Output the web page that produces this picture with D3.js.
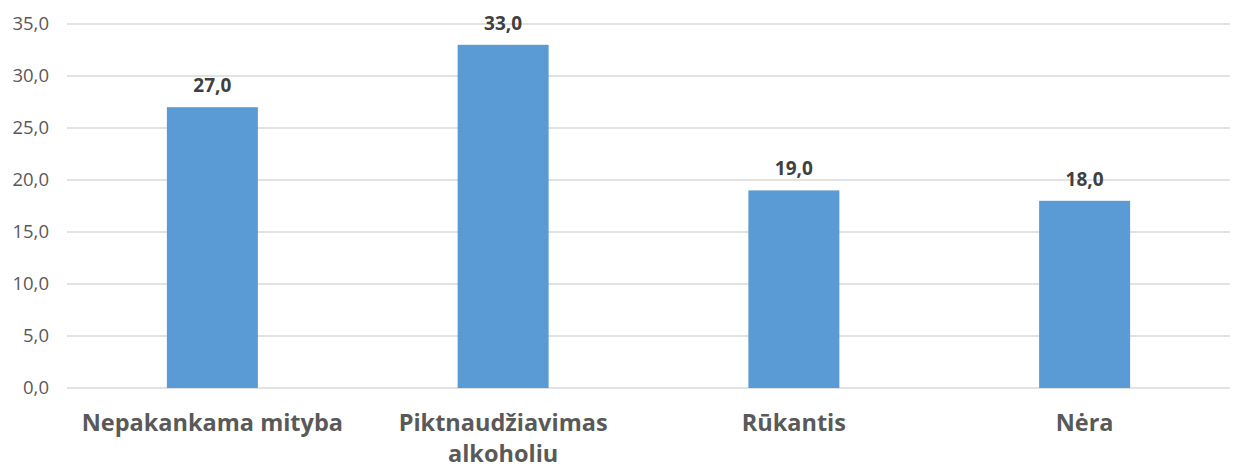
<!DOCTYPE html>
<html><head><meta charset="utf-8">
<script src="https://cdn.jsdelivr.net/npm/d3@7"></script>
<style>body{margin:0;background:#fff;} text{font-family:"Open Sans","Noto Sans",sans-serif;}</style>
</head><body><svg id="c" width="1238" height="470"></svg>
<script>
const categories = [["Nepakankama mityba"], ["Piktnaudžiavimas", "alkoholiu"], ["Rūkantis"], ["Nėra"]];
const values = [27.0, 33.0, 19.0, 18.0];
const yTicks = [0, 5, 10, 15, 20, 25, 30, 35];

const svg = d3.select("#c");
const m = {l: 67, r: 8, t: 24, b: 82};
const W = 1238, H = 470;
const fmt = v => v.toFixed(1).replace(".", ",");
const x = d3.scaleBand().domain(categories.map((d,i)=>i)).range([m.l, W - m.r]).paddingInner(0.687).paddingOuter(0.3435);
const y = d3.scaleLinear().domain([0, 35]).range([H - m.b, m.t]);

svg.append("g").selectAll("line").data(yTicks).join("line")
  .attr("x1", m.l).attr("x2", W - m.r)
  .attr("y1", d => y(d)).attr("y2", d => y(d))
  .attr("stroke", "#d9d9d9").attr("stroke-width", 1.3);

const ya = svg.append("g").attr("transform", `translate(${m.l},0)`)
  .call(d3.axisLeft(y).tickValues(yTicks).tickFormat(fmt).tickSize(0).tickPadding(18));
ya.select(".domain").remove();
ya.selectAll("text").attr("fill", "#595959").style("font-size", "18.5px").style("font-family", '"Open Sans","Noto Sans",sans-serif');

svg.append("g").selectAll("rect").data(values).join("rect")
  .attr("x", (d,i) => x(i)).attr("width", x.bandwidth())
  .attr("y", d => y(d)).attr("height", d => y(0) - y(d))
  .attr("fill", "#5b9bd5");

svg.append("g").selectAll("text").data(values).join("text")
  .attr("x", (d,i) => x(i) + x.bandwidth()/2).attr("y", d => y(d) - 15)
  .attr("text-anchor", "middle").attr("fill", "#404040")
  .style("font-size", "19px").style("font-weight", "bold").text(fmt);

const cg = svg.append("g");
categories.forEach((lines, i) => {
  const t = cg.append("text").attr("text-anchor", "middle").attr("fill", "#595959")
    .style("font-size", "23.5px").style("font-weight", "bold");
  lines.forEach((ln, j) => {
    t.append("tspan").attr("x", x(i) + x.bandwidth()/2).attr("y", 431 + j*31).text(ln);
  });
});
</script></body></html>
